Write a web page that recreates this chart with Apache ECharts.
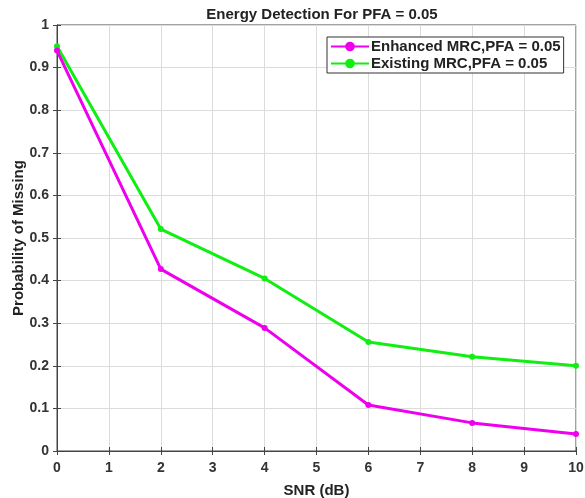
<!DOCTYPE html>
<html>
<head>
<meta charset="utf-8">
<script src="https://cdn.jsdelivr.net/npm/echarts@6/dist/echarts.min.js"></script>
<style>
html, body { margin: 0; padding: 0; background: #fff; }
#chartDiv { width: 585px; height: 498px; }
</style>
</head>
<body>
<div id="chartDiv"></div>
<script>
// 初始化图表
var myChart = echarts.init(document.getElementById('chartDiv'));

// 数据
var snr = [0, 2, 4, 6, 8, 10];
var enhanced = [0.94, 0.427, 0.289, 0.108, 0.066, 0.040];
var existing = [0.95, 0.521, 0.405, 0.256, 0.221, 0.200];
var seriesNames = ['Enhanced MRC,PFA = 0.05', 'Existing MRC,PFA = 0.05'];

var font = 'Liberation Sans, Arial, sans-serif';
var axisColor = '#444';

function pairs(xs, ys) {
    return xs.map(function (x, i) { return [x, ys[i]]; });
}

var option = {
    backgroundColor: '#fff',
    animation: false,
    title: {
        text: 'Energy Detection For PFA = 0.05',
        left: 317,
        top: 2,
        textAlign: 'center',
        textStyle: { fontFamily: font, fontSize: 15, fontWeight: 'bold', color: '#222' }
    },
    grid: {
        left: 57, right: 9, top: 25, bottom: 47,
        outerBoundsMode: 'none',
        containLabel: false,
        show: true, borderColor: axisColor, borderWidth: 1
    },
    legend: {
        left: 327, top: 37,
        orient: 'vertical',
        backgroundColor: '#fff',
        borderColor: '#333', borderWidth: 1,
        padding: [2, 3, 2, 3],
        itemGap: 2,
        itemWidth: 38, itemHeight: 12,
        data: seriesNames,
        textStyle: { fontFamily: font, fontSize: 15, fontWeight: 'bold', color: '#222', padding: [0, 0, 0, -3] }
    },
    xAxis: [{
        type: 'value', min: 0, max: 10, interval: 1,
        name: 'SNR (dB)', nameLocation: 'middle', nameGap: 32, nameMoveOverlap: false,
        nameTextStyle: { fontFamily: font, fontSize: 15, fontWeight: 'bold', color: '#222' },
        axisLine: { show: true, lineStyle: { color: axisColor } },
        axisTick: { inside: true, length: 4, lineStyle: { color: axisColor } },
        axisLabel: { fontFamily: font, fontSize: 14, fontWeight: 'bold', color: '#333', margin: 10 },
        splitLine: { lineStyle: { color: '#dcdcdc' } }
    }, {
        type: 'value', min: 0, max: 10, interval: 1, position: 'top',
        axisLine: { show: true, lineStyle: { color: axisColor } },
        axisTick: { inside: true, length: 4, lineStyle: { color: axisColor } },
        axisLabel: { show: false }, splitLine: { show: false }
    }],
    yAxis: [{
        type: 'value', min: 0, max: 1, interval: 0.1,
        name: 'Probability of Missing', nameLocation: 'middle', nameGap: 31, nameMoveOverlap: false,
        nameTextStyle: { fontFamily: font, fontSize: 15, fontWeight: 'bold', color: '#222' },
        axisLine: { show: true, lineStyle: { color: axisColor } },
        axisTick: { inside: true, length: 4, lineStyle: { color: axisColor } },
        axisLabel: {
            fontFamily: font, fontSize: 14, fontWeight: 'bold', color: '#333', margin: 8,
            formatter: function (v) { return String(Math.round(v * 10) / 10); }
        },
        splitLine: { lineStyle: { color: '#dcdcdc' } }
    }, {
        type: 'value', min: 0, max: 1, interval: 0.1, position: 'right',
        axisLine: { show: true, lineStyle: { color: axisColor } },
        axisTick: { inside: true, length: 4, lineStyle: { color: axisColor } },
        axisLabel: { show: false }, splitLine: { show: false }
    }],
    series: [{
        name: seriesNames[0],
        type: 'line',
        data: pairs(snr, enhanced),
        symbol: 'circle', symbolSize: 6,
        itemStyle: { color: '#ee00ee' },
        lineStyle: { width: 3, color: '#ee00ee' },
        z: 3
    }, {
        name: seriesNames[1],
        type: 'line',
        data: pairs(snr, existing),
        symbol: 'circle', symbolSize: 6,
        itemStyle: { color: '#11ee11' },
        lineStyle: { width: 3, color: '#11ee11' },
        z: 2
    }]
};
myChart.setOption(option);
</script>
</body>
</html>
